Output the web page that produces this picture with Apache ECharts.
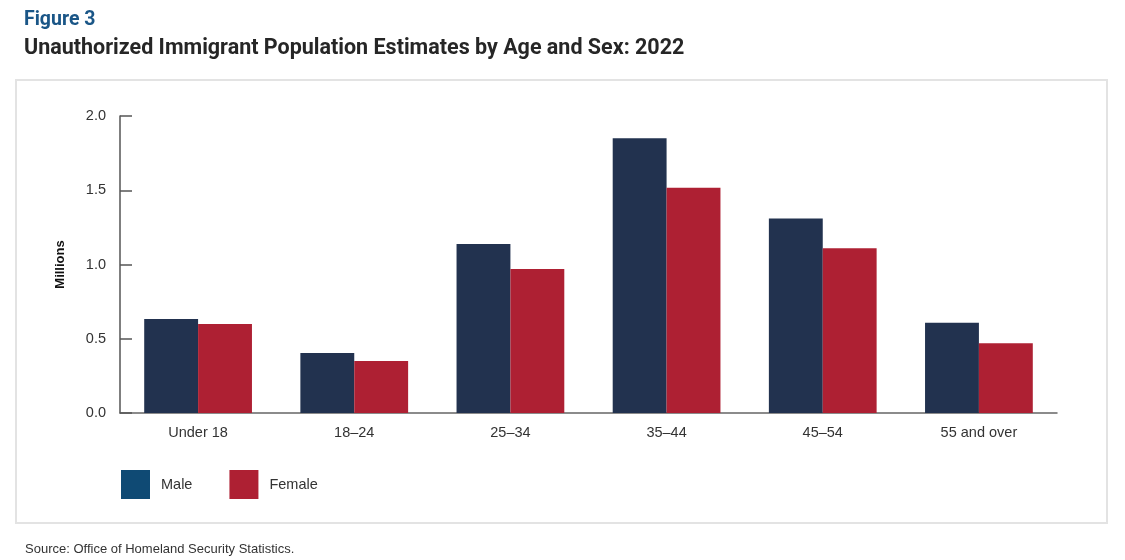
<!DOCTYPE html>
<html><head><meta charset="utf-8">
<script src="https://cdn.jsdelivr.net/npm/echarts@6/dist/echarts.min.js"></script>
<style>html,body{margin:0;padding:0;background:#fff}#c{width:1125px;height:560px}</style>
</head><body><div id="c"></div>
<script>
const categories = ['Under 18', '18–24', '25–34', '35–44', '45–54', '55 and over'];
const maleValues = [0.633, 0.404, 1.138, 1.85, 1.31, 0.608];
const femaleValues = [0.60, 0.35, 0.97, 1.517, 1.11, 0.469];
const seriesNames = ['Male', 'Female'];
const yTicks = [0, 0.5, 1.0, 1.5, 2.0];

const chart = echarts.init(document.getElementById('c'));
const F = 'Roboto, "Liberation Sans", sans-serif';
const G = '"Liberation Sans", Arial, sans-serif';
chart.setOption({
  animation: false,
  backgroundColor: '#fff',
  title: [
    {text: 'Figure 3', left: 19, top: 5, textStyle: {fontFamily: F, fontSize: 19.5, fontWeight: 'bold', color: '#1a5687'}},
    {text: 'Unauthorized Immigrant Population Estimates by Age and Sex: 2022', left: 19, top: 33, textStyle: {fontFamily: F, fontSize: 21.5, fontWeight: 'bold', color: '#262626'}},
    {text: 'Source: Office of Homeland Security Statistics.', left: 20, top: 538, textStyle: {fontFamily: G, fontSize: 13, fontWeight: 'normal', color: '#333'}}
  ],
  graphic: [
    {type: 'rect', shape: {x: 16, y: 80, width: 1091, height: 443}, style: {fill: 'none', stroke: '#e3e3e3', lineWidth: 2}, z: -1}
  ],
  legend: {
    left: 116, top: 465, itemWidth: 29, itemHeight: 29, itemGap: 37,
    icon: 'rect',
    textStyle: {fontFamily: G, fontSize: 14.5, color: '#333', padding: [0, 0, 0, 6]},
    data: [
      {name: seriesNames[0], itemStyle: {color: '#0f4a74'}},
      {name: seriesNames[1], itemStyle: {color: '#ae2033'}}
    ]
  },
  grid: {left: 120, right: 68, top: 116, bottom: 147, containLabel: false},
  xAxis: {
    type: 'category', data: categories,
    axisLine: {lineStyle: {color: '#666', width: 1.5}},
    axisTick: {show: false},
    axisLabel: {fontFamily: G, fontSize: 14.5, color: '#333', margin: 12}
  },
  yAxis: {
    type: 'value', min: 0, max: 2, interval: 0.5,
    name: 'Millions', nameLocation: 'middle', nameGap: 53, nameRotate: 90,
    nameTextStyle: {fontFamily: G, fontSize: 13, fontWeight: 'bold', color: '#111'},
    axisLine: {show: true, lineStyle: {color: '#555', width: 1.5}},
    axisTick: {show: true, inside: true, length: 12, lineStyle: {color: '#555', width: 1.5}},
    splitLine: {show: false},
    axisLabel: {fontFamily: G, fontSize: 14.5, color: '#333', margin: 14,
      formatter: v => yTicks.includes(v) ? v.toFixed(1) : ''}
  },
  series: [
    {name: seriesNames[0], type: 'bar', data: maleValues, barGap: '0%', barCategoryGap: '31%', itemStyle: {color: '#22324f'}},
    {name: seriesNames[1], type: 'bar', data: femaleValues, itemStyle: {color: '#ae2033'}}
  ]
});
</script></body></html>
